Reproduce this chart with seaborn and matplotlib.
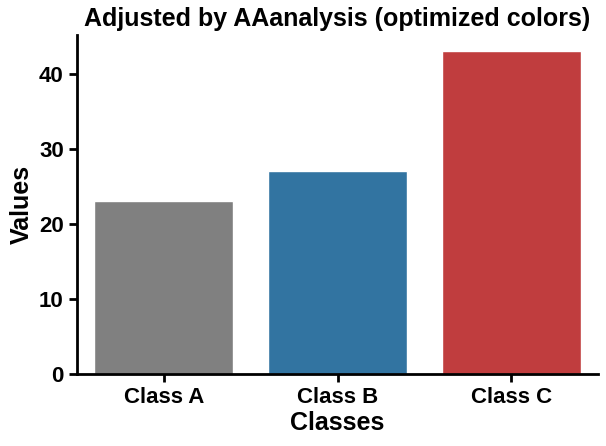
import matplotlib
matplotlib.use("Agg")
import matplotlib.pyplot as plt
import seaborn as sns
import pandas as pd

# chart data
classes = ["Class A", "Class B", "Class C"]
values = [23, 27, 43]
bar_colors = ["#808080", "#1f77b4", "#d62728"]

sns.set_style("ticks")
plt.rcParams['font.family'] = ['Liberation Sans', 'DejaVu Sans']
plt.rcParams['font.weight'] = 'bold'
plt.rcParams['text.color'] = 'black'
plt.rcParams['axes.labelcolor'] = 'black'

df = pd.DataFrame({"Classes": classes, "Values": values})

fig, ax = plt.subplots(figsize=(6.06, 4.46), dpi=100)
sns.barplot(data=df, x="Classes", y="Values", hue="Classes",
            palette=bar_colors, legend=False, ax=ax)

ax.set_title("Adjusted by AAanalysis (optimized colors)", fontsize=18,
             fontweight="bold", color="black", pad=6)
ax.set_xlabel("Classes", fontsize=18, fontweight="bold", color="black", labelpad=2)
ax.set_ylabel("Values", fontsize=18, fontweight="bold", color="black", labelpad=4)
ax.tick_params(axis="both", labelsize=16, width=2, length=6, colors="black")
for lbl in ax.get_xticklabels() + ax.get_yticklabels():
    lbl.set_fontweight("bold")
sns.despine(ax=ax)
for s in ["left", "bottom"]:
    ax.spines[s].set_linewidth(2)
    ax.spines[s].set_color("black")

fig.subplots_adjust(left=0.127, right=0.987, top=0.922, bottom=0.161)
fig.savefig("out.png", dpi=100)
